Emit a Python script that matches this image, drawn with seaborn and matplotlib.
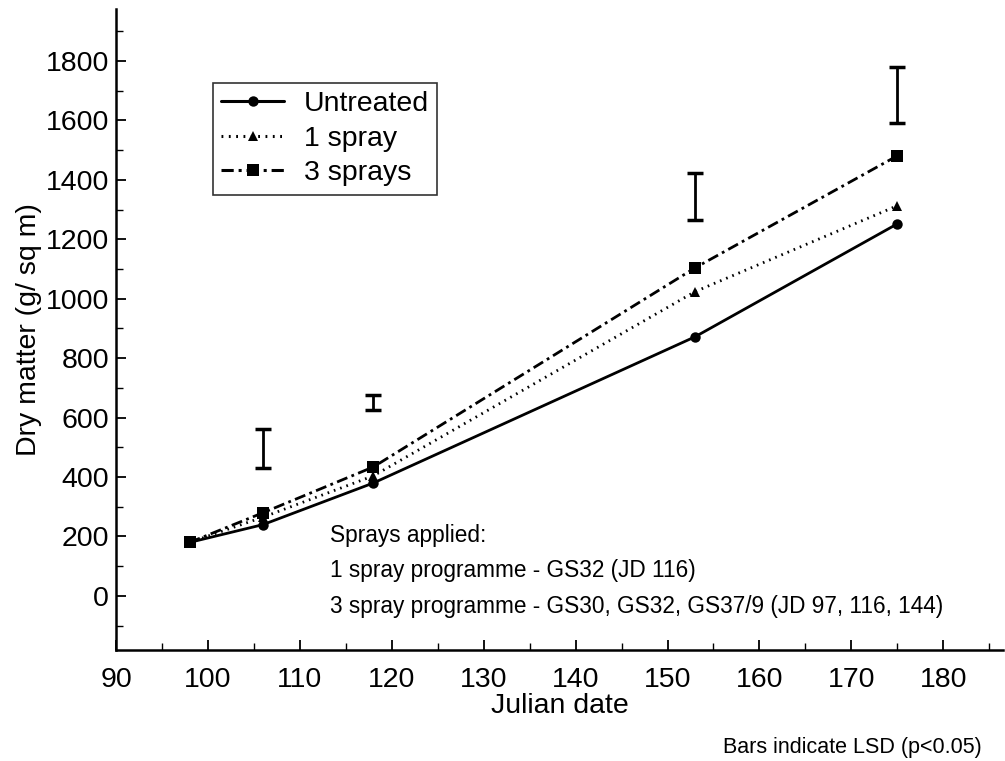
import matplotlib
matplotlib.use("Agg")
import matplotlib.pyplot as plt
import seaborn as sns
import pandas as pd
import numpy as np
from matplotlib.ticker import MultipleLocator

# ---- data ----
julian = [98, 106, 118, 153, 175]
untreated = [180, 240, 380, 872, 1252]
one_spray = [180, 265, 404, 1024, 1313]
three_sprays = [180, 280, 434, 1104, 1481]
series_names = ["Untreated", "1 spray", "3 sprays"]

lsd_x = [106, 118, 153, 175]
lsd_low = [431, 626, 1266, 1593]
lsd_high = [562, 677, 1424, 1781]

x_ticks = list(range(90, 181, 10))
y_ticks = list(range(0, 1801, 200))

df = pd.DataFrame({
    "Julian date": julian * 3,
    "Dry matter": untreated + one_spray + three_sprays,
    "Treatment": [series_names[0]] * 5 + [series_names[1]] * 5 + [series_names[2]] * 5,
})

sns.set_style("ticks")
plt.rcParams["font.family"] = ["Liberation Sans", "DejaVu Sans"]
plt.rcParams["text.color"] = "black"
plt.rcParams["axes.labelcolor"] = "black"
plt.rcParams["xtick.color"] = "black"
plt.rcParams["ytick.color"] = "black"

fig = plt.figure(figsize=(10.05, 7.61), dpi=100)
ax = fig.add_axes([116 / 1005, 111 / 761, 887 / 1005, 641 / 761])

markers = {"Untreated": "o", "1 spray": "^", "3 sprays": "s"}
dashes = {"Untreated": "", "1 spray": (0.6, 1.8), "3 sprays": (4, 1.6, 1, 1.6)}
sns.lineplot(data=df, x="Julian date", y="Dry matter", style="Treatment",
             style_order=series_names, markers=markers, dashes=dashes,
             color="black", linewidth=2.0, markersize=8, markeredgewidth=0,
             ax=ax, legend=True)

for line in ax.get_lines():
    m = line.get_marker()
    if m == "s":
        line.set_markersize(8.5)
    elif m in ("^", "o"):
        line.set_markersize(7.5)

# LSD bars
centers = [(a + b) / 2 for a, b in zip(lsd_low, lsd_high)]
halves = [(b - a) / 2 for a, b in zip(lsd_low, lsd_high)]
ax.errorbar(lsd_x, centers, yerr=halves, fmt="none", ecolor="black",
            elinewidth=2.0, capsize=6, capthick=2.5)

ax.set_xlim(90, 186.5)
ax.set_ylim(-182, 1975)
ax.set_xticks(x_ticks)
ax.set_yticks(y_ticks)
ax.xaxis.set_minor_locator(MultipleLocator(5))
ax.yaxis.set_minor_locator(MultipleLocator(100))
ax.tick_params(axis="both", which="major", direction="in", length=7, width=1.3,
               labelsize=20.5, colors="black")
ax.tick_params(axis="x", which="major", pad=12)
ax.tick_params(axis="y", which="major", pad=5)
ax.tick_params(axis="both", which="minor", direction="in", length=5, width=1.0)
for s in ["top", "right"]:
    ax.spines[s].set_visible(False)
for s in ["left", "bottom"]:
    ax.spines[s].set_color("black")
    ax.spines[s].set_linewidth(1.8)

ax.set_xlabel("Julian date", fontsize=20.5, labelpad=0)
ax.set_ylabel("Dry matter (g/ sq m)", fontsize=20.5, labelpad=3)

leg = ax.legend(loc="upper left", bbox_to_anchor=(0.109, 0.885), borderaxespad=0,
                fontsize=20.5, handlelength=2.2, handletextpad=0.7, labelspacing=0.3,
                frameon=True, fancybox=False, borderpad=0.3, title=None)
leg.get_frame().set_edgecolor("black")
leg.get_frame().set_linewidth(1.2)
for h in leg.legend_handles:
    h.set_linewidth(2.2)

ax.text(113.3, 182, "Sprays applied:", fontsize=16.3, va="baseline", ha="left")
ax.text(113.3, 64, "1 spray programme - GS32 (JD 116)", fontsize=16.3, va="baseline", ha="left")
ax.text(113.3, -57, "3 spray programme - GS30, GS32, GS37/9 (JD 97, 116, 144)",
        fontsize=16.3, va="baseline", ha="left")

fig.text(0.977, 0.0105, "Bars indicate LSD (p<0.05)", fontsize=15.5, ha="right", va="baseline")

fig.savefig("out.png", dpi=100)
